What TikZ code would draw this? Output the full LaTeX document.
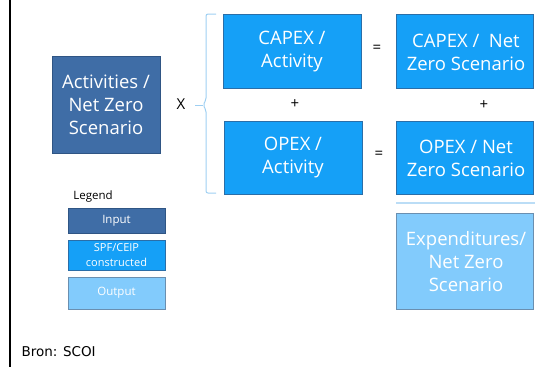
\documentclass[tikz,border=0pt]{standalone}
\usepackage{fontspec}
\setmainfont{Open Sans}
\newfontfamily\bronfont{DejaVu Sans}
\usetikzlibrary{positioning}
\definecolor{inputblue}{HTML}{3F6DA6}
\definecolor{inputedge}{HTML}{2F5584}
\definecolor{calcblue}{HTML}{15A0F7}
\definecolor{calcedge}{HTML}{2A6EA8}
\definecolor{outblue}{HTML}{82CBFC}
\definecolor{outedge}{HTML}{6A8FB0}
\definecolor{bracecol}{HTML}{9ECFF2}
\begin{document}
\begin{tikzpicture}[x=1pt,y=-1pt,
  boxtext/.style={text=white,font=\fontsize{18.5}{23}\selectfont,align=center},
  inbox/.style={draw=inputedge,fill=inputblue,line width=0.8pt},
  calcbox/.style={draw=calcedge,fill=calcblue,line width=0.8pt},
  outbox/.style={draw=outedge,fill=outblue,line width=0.8pt},
  optext/.style={font=\fontsize{15}{17}\selectfont}]
\useasboundingbox (0,0) rectangle (535,367);
% frame line on the left
\draw[line width=1.2pt] (10,0) -- (10,367);

% input box
\draw[inbox] (52,56) rectangle (160,153);
\node[boxtext] (act) at (106,105) {Activities /\\Net Zero\\Scenario};
\node[optext] (times) at (181,104) {X};

% brace
\draw[bracecol,line width=1pt,rounded corners=2pt]
  (216,14) -- (206,14) -- (206,100) -- (203,105) -- (206,110) -- (206,193) -- (216,193);
\draw[bracecol,line width=1pt] (195,105) -- (203,105);

% per-activity boxes
\draw[calcbox] (223,14) rectangle (361,88);
\node[boxtext] (capa) at (292,52) {CAPEX /\\Activity};
\draw[calcbox] (224,121) rectangle (362,194);
\node[boxtext] (opa) at (293,158) {OPEX /\\Activity};

% net zero boxes
\draw[calcbox] (396,14) rectangle (533,88);
\node[boxtext] (capn) at (466,52) {CAPEX /\ \ Net\\Zero Scenario};
\draw[calcbox] (396,121) rectangle (533,194);
\node[boxtext] (opn) at (466,158) {OPEX / Net\\Zero Scenario};

% operators
\node[optext] (eq1) at (377,49) {=};
\node[optext] (eq2) at (379,155) {=};
\node[optext] (pl1) at (295,104) {+};
\node[optext] (pl2) at (484,105) {+};

% sum line and output box
\draw[bracecol!70,line width=2pt] (396,203) -- (535,203);
\draw[outbox] (396,213) rectangle (533,309);
\node[boxtext] (exp) at (466,262) {Expenditures/\\Net Zero\\Scenario};

% legend
\node[font=\fontsize{11.5}{13}\selectfont] (leg) at (93,197) {Legend};
\draw[inbox] (68,208) rectangle (165,233);
\node[text=white,font=\fontsize{11.5}{13}\selectfont] (lin) at (116.5,220.5) {Input};
\draw[calcbox] (68,240) rectangle (165,270);
\node[text=white,font=\fontsize{11}{14.5}\selectfont,align=center] (lspf) at (116.5,255) {SPF/CEIP\\constructed};
\draw[outbox] (68,277) rectangle (165,309);
\node[text=white,font=\fontsize{11.5}{13}\selectfont] (lout) at (116.5,293) {Output};

% source
\node[font=\bronfont\fontsize{13.5}{15}\selectfont,anchor=west] (src) at (18,352) {Bron: SCOI};
\end{tikzpicture}
\end{document}
